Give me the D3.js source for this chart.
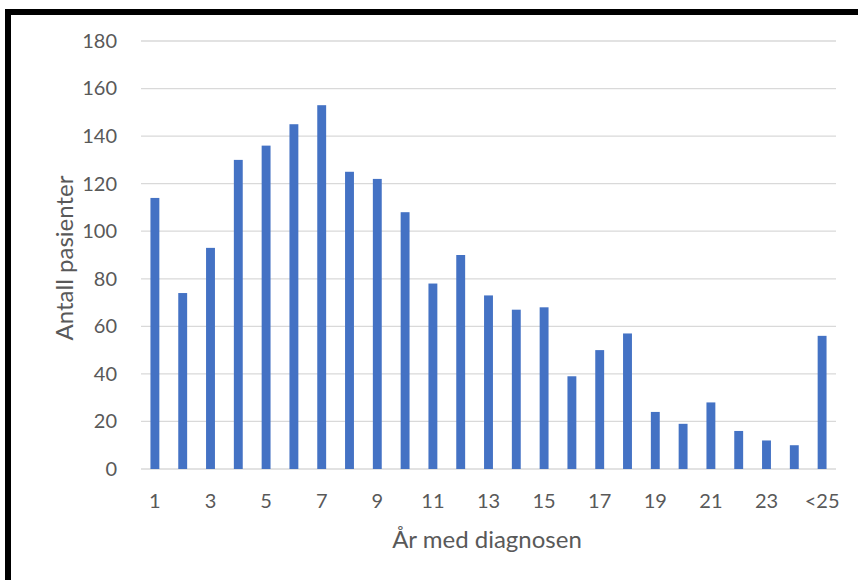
<!DOCTYPE html>
<html>
<head>
<meta charset="utf-8">
<script src="https://cdn.jsdelivr.net/npm/d3@7"></script>
<style>
  body { margin: 0; background: #fff; }
  text { font-family: Lato, "Open Sans", sans-serif; fill: #595959; }
</style>
</head>
<body>
<div id="chart"></div>
<script>
var categories = ["1","2","3","4","5","6","7","8","9","10","11","12","13","14","15","16","17","18","19","20","21","22","23","24","<25"];
var patients = [114, 74, 93, 130, 136, 145, 153, 125, 122, 108, 78, 90, 73, 67, 68, 39, 50, 57, 24, 19, 28, 16, 12, 10, 56];
var yTicks = [0, 20, 40, 60, 80, 100, 120, 140, 160, 180];
var shownLabels = ["1","3","5","7","9","11","13","15","17","19","21","23","<25"];

var W = 858, H = 580;
var margin = {top: 41, right: 22, bottom: 111, left: 141},
    width = W - margin.left - margin.right,
    height = H - margin.top - margin.bottom;

var svg = d3.select("#chart").append("svg")
    .attr("width", W)
    .attr("height", H);

// black frame (cut off at right and bottom)
svg.append("rect")
    .attr("x", 8).attr("y", 12)
    .attr("width", W + 20).attr("height", H + 20)
    .attr("fill", "none")
    .attr("stroke", "#000")
    .attr("stroke-width", 6);

var g = svg.append("g")
    .attr("transform", "translate(" + margin.left + "," + margin.top + ")");

var xScale = d3.scaleBand()
    .domain(categories)
    .range([0, width])
    .paddingInner(0.68)
    .paddingOuter(0.34);

var yScale = d3.scaleLinear()
    .domain([0, 180])
    .range([height, 0]);

// gridlines
g.selectAll(".grid")
  .data(yTicks)
  .enter().append("line")
    .attr("class", "grid")
    .attr("x1", 0).attr("x2", width)
    .attr("y1", function(d) { return yScale(d); })
    .attr("y2", function(d) { return yScale(d); })
    .attr("stroke", "#d9d9d9")
    .attr("stroke-width", 1.3);

// bars
g.selectAll(".bar")
  .data(patients)
  .enter().append("rect")
    .attr("class", "bar")
    .attr("x", function(d, i) { return xScale(categories[i]); })
    .attr("width", xScale.bandwidth())
    .attr("y", function(d) { return yScale(d); })
    .attr("height", function(d) { return height - yScale(d); })
    .attr("fill", "#4472c4");

// y axis
var yAxis = g.append("g")
    .call(d3.axisLeft(yScale).tickValues(yTicks).tickSize(0).tickPadding(24));
yAxis.select(".domain").remove();
yAxis.selectAll("text").style("font-size", "20px").style("fill", "#595959");

// x axis
var xAxis = g.append("g")
    .attr("transform", "translate(0," + height + ")")
    .call(d3.axisBottom(xScale).tickValues(shownLabels).tickSize(0).tickPadding(25));
xAxis.select(".domain").remove();
xAxis.selectAll("text").style("font-size", "20px").style("fill", "#595959");

// axis titles
svg.append("text")
    .attr("x", 487)
    .attr("y", 548)
    .attr("text-anchor", "middle")
    .style("font-size", "24px")
    .text("År med diagnosen");

svg.append("text")
    .attr("transform", "translate(73,258) rotate(-90)")
    .attr("text-anchor", "middle")
    .style("font-size", "24px")
    .text("Antall pasienter");
</script>
</body>
</html>
